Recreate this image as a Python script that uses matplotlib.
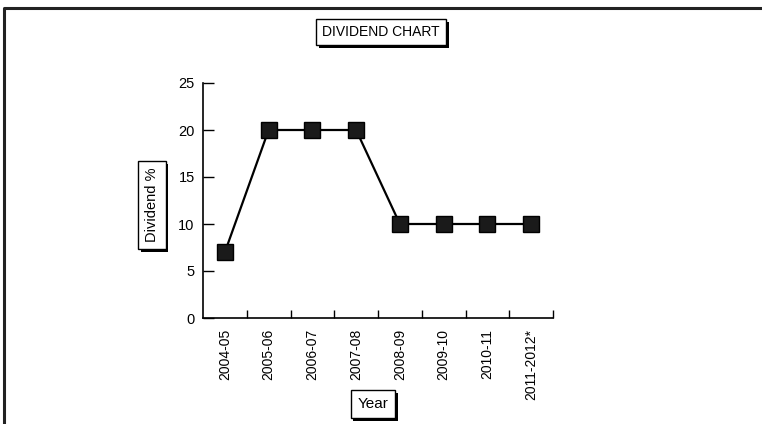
import numpy as np
import matplotlib.pyplot as plt
import matplotlib.patheffects as pe
from matplotlib.lines import Line2D

plt.rcParams['font.family'] = ['Liberation Sans Narrow', 'Liberation Sans', 'DejaVu Sans']

# data
years = ['2004-05', '2005-06', '2006-07', '2007-08', '2008-09', '2009-10', '2010-11', '2011-2012*']
dividend = [7, 20, 20, 20, 10, 10, 10, 10]
yticks = [0, 5, 10, 15, 20, 25]

fig = plt.figure(figsize=(7.62, 4.24), dpi=100)
ax = fig.add_axes([203/762, 1 - 318/424, 350/762, 235/424])

x = np.arange(len(years))
ax.plot(x, dividend, color='black', lw=1.6, marker='s', ms=12,
        markerfacecolor='#1a1a1a', markeredgecolor='black')

ax.set_xlim(-0.5, len(years) - 0.5)
ax.set_ylim(0, 25)
ax.set_yticks(yticks)
ax.set_xticks(x)
ax.set_xticklabels(years, rotation=90, fontsize=10)
ax.set_xticks(x + 0.5, minor=True)
ax.tick_params(axis='x', which='major', length=0, pad=8)
ax.tick_params(axis='x', which='minor', direction='in', length=6, width=1)
ax.tick_params(axis='y', direction='in', length=8, width=1, labelsize=10.5, pad=6)
for s in ['top', 'right']:
    ax.spines[s].set_visible(False)
for s in ['left', 'bottom']:
    ax.spines[s].set_linewidth(1.2)


def boxed(t):
    p = t.get_bbox_patch()
    p.set_path_effects([pe.SimplePatchShadow(offset=(2, -2), shadow_rgbFace='black', alpha=1),
                        pe.Normal()])


box = dict(boxstyle='square,pad=0.45', fc='white', ec='black', lw=1)
t1 = fig.text(381/762, 1 - 32/424, 'DIVIDEND CHART', ha='center', va='center',
              fontsize=10, bbox=box)
t2 = fig.text(152/762, 1 - 205/424, 'Dividend %', ha='center', va='center',
              rotation=90, fontsize=10.5, bbox=box)
t3 = fig.text(373/762, 1 - 404/424, 'Year', ha='center', va='center',
              fontsize=11, bbox=box)
fig.canvas.draw()
for t in (t1, t2, t3):
    boxed(t)

# outer frame (top and left only)
fig.add_artist(Line2D([4/762, 4/762, 1.0], [0, 1 - 8/424, 1 - 8/424],
                      transform=fig.transFigure, color='#222222', lw=2.2))

fig.savefig('out.png', dpi=100)
